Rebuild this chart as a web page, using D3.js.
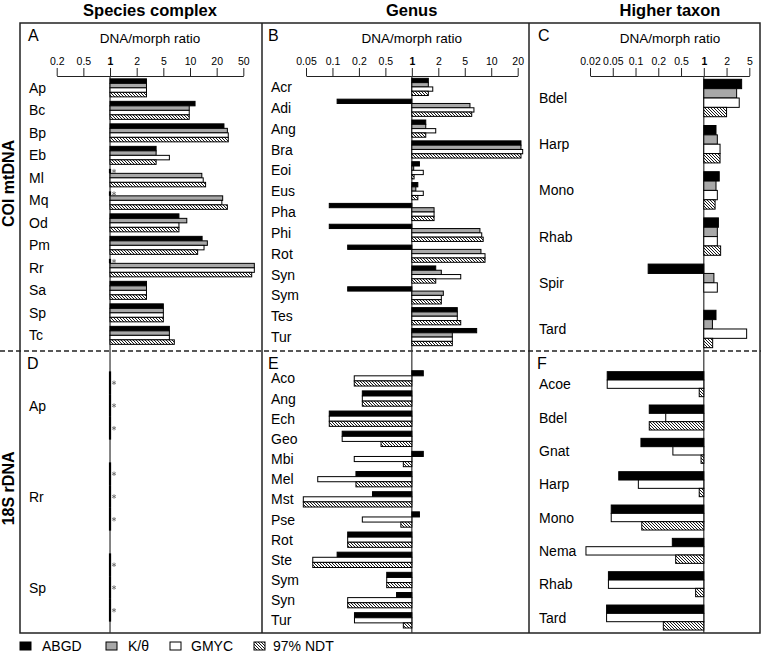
<!DOCTYPE html>
<html><head><meta charset="utf-8">
<script src="https://cdn.jsdelivr.net/npm/d3@7"></script>
<style>body{margin:0;background:#fff}svg{display:block;font-family:"Liberation Sans",Arial,sans-serif}</style>
</head><body><svg id="c" width="761" height="653"></svg>
<script>
// ---------- DATA ----------
const seriesNames = ["ABGD", "K/θ", "GMYC", "97% NDT"];
const seriesNames18S = ["ABGD", "GMYC", "97% NDT"];

// A: COI mtDNA, species complex
const catsA = ["Ap","Bc","Bp","Eb","Ml","Mq","Od","Pm","Rr","Sa","Sp","Tc"];
const abgdA = [2.8, 11.4, 25.7, 3.9, null, null, 7.5, 13.7, null, 2.8, 5, 5.85];
const kthA  = [2.8, 9.8, 28.9, 3.9, 13.6, 24.6, 9.2, 15.7, 73, 2.8, 5, 5.85];
const gmycA = [2.8, 9.8, 29.8, 5.85, 14.1, 23.9, 7.5, 14.4, 73, 2.8, 5, 5.85];
const ndtA  = [2.8, 9.8, 29.8, 3.9, 15.0, 28.9, 7.5, 12.2, 66.7, 2.8, 5, 6.65];

// B: COI mtDNA, genus
const catsB = ["Acr","Adi","Ang","Bra","Eoi","Eus","Pha","Phi","Rot","Syn","Sym","Tes","Tur"];
const abgdB = [1.54, 0.113, 1.44, 21.8, 1.22, 1.17, 0.092, 0.092, 0.149, 1.87, 0.149, 3.86, 6.83];
const kthB  = [1.54, 5.73, 1.44, 21.8, 1.05, 1.11, 1.79, 7.44, 7.64, 2.22, 2.38, 3.86, 3.25];
const gmycB = [1.73, 6.36, 1.87, 22.8, 1.35, 1.35, 1.79, 7.8, 8.5, 4.35, 2.22, 3.86, 3.25];
const ndtB  = [1.54, 6.0, 1.44, 21.8, 1.06, 1.17, 1.79, 8.1, 8.5, 1.87, 2.22, 4.35, 3.25];

// C: COI mtDNA, higher taxon
const catsC = ["Bdel","Harp","Mono","Rhab","Spir","Tard"];
const abgdC = [3.67, 1.45, 1.6, 1.56, 0.147, 1.45];
const kthC  = [3.0, 1.51, 1.45, 1.51, 1.36, 1.3];
const gmycC = [3.33, 1.64, 1.51, 1.51, 1.51, 4.49];
const ndtC  = [2.0, 1.64, 1.41, 1.67, 1.0, 1.31];

// D: 18S rDNA, species complex (all ratios = 1, marked *)
const catsD = ["Ap","Rr","Sp"];
const abgdD = [null, null, null];
const gmycD = [null, null, null];
const ndtD  = [null, null, null];

// E: 18S rDNA, genus
const catsE = ["Aco","Ang","Ech","Geo","Mbi","Mel","Mst","Pse","Rot","Ste","Sym","Syn","Tur"];
const abgdE = [1.35, 0.225, 0.092, 0.129, 1.35, 0.185, 0.32, 1.22, 0.149, 0.113, 0.518, 0.67, 0.178];
const gmycE = [0.177, 0.225, 0.092, 0.129, 0.177, 0.068, 0.0466, 0.225, 0.149, 0.0597, 0.518, 0.149, 0.178];
const ndtE  = [0.177, 0.225, 0.092, 0.43, 0.8, 0.185, 0.0466, 0.75, 0.149, 0.0597, 0.518, 0.149, 0.8];

// F: 18S rDNA, higher taxon
const catsF = ["Acoe","Bdel","Gnat","Harp","Mono","Nema","Rhab","Tard"];
const abgdF = [0.040, 0.152, 0.118, 0.060, 0.047, 0.352, 0.042, 0.039];
const gmycF = [0.040, 0.27, 0.36, 0.109, 0.047, 0.0170, 0.042, 0.039];
const ndtF  = [0.87, 0.152, 0.92, 0.87, 0.121, 0.403, 0.78, 0.245];

// Tick labels
const ticksA = [0.2, 0.5, 1, 2, 5, 10, 20, 50];
const ticksB = [0.05, 0.1, 0.2, 0.5, 1, 2, 5, 10, 20];
const ticksC = [0.02, 0.05, 0.1, 0.2, 0.5, 1, 2, 5];

const columnTitles = ["Species complex", "Genus", "Higher taxon"];
const rowTitles = ["COI mtDNA", "18S rDNA"];
const panelLetters = ["A","B","C","D","E","F"];
const axisTitle = "DNA/morph ratio";

// ---------- STYLE ----------
const fills = {"ABGD":"#000", "K/θ":"#a8a8a8", "GMYC":"#fff", "97% NDT":"url(#hatch)"};
const svg = d3.select("#c");
const defs = svg.append("defs");
const pat = defs.append("pattern").attr("id","hatch").attr("patternUnits","userSpaceOnUse")
  .attr("width",3).attr("height",3);
pat.append("rect").attr("width",3).attr("height",3).attr("fill","#fff");
pat.append("path").attr("d","M-1,-1L4,4M-1,2L1,4M2,-1L4,1").attr("stroke","#000").attr("stroke-width",0.9);

// piecewise-log scales (equal spacing between 1-2-5 ticks)
function mkScale(ticks, x0, step){
  return d3.scaleLog().domain(ticks).range(ticks.map((d,i)=>x0 + i*step));
}
const xA = mkScale(ticksA, 56.7, 26.66);
const xB = mkScale(ticksB, 306, 26.46);
const xC = mkScale(ticksC, 590, 22.76);

const FRAME = {l:20, t:23, r:760, b:633};
const divX = [262, 529];
const dashY = 351;

// headers
const headX = [150, 411.7, 670];
columnTitles.forEach((t,i)=>{
  svg.append("text").attr("x",headX[i]).attr("y",16).attr("text-anchor","middle")
    .attr("font-size",16.5).attr("font-weight","bold").text(t);
});
// row titles
[[183.5,rowTitles[0]],[488.4,rowTitles[1]]].forEach(([cy,t])=>{
  svg.append("text").attr("transform",`translate(13.5,${cy}) rotate(-90)`).attr("text-anchor","middle")
    .attr("font-size",16).attr("font-weight","bold").text(t);
});

// frame
svg.append("rect").attr("x",FRAME.l).attr("y",FRAME.t).attr("width",FRAME.r-FRAME.l).attr("height",FRAME.b-FRAME.t)
  .attr("fill","none").attr("stroke","#222").attr("stroke-width",1.5);
divX.forEach(x=>svg.append("line").attr("x1",x).attr("x2",x).attr("y1",FRAME.t).attr("y2",FRAME.b)
  .attr("stroke","#222").attr("stroke-width",1.5));
svg.append("line").attr("x1",0).attr("x2",761).attr("y1",dashY).attr("y2",dashY)
  .attr("stroke","#222").attr("stroke-width",1.3).attr("stroke-dasharray","5,3");

// axes
function drawAxis(x, ticks, cx){
  const g = svg.append("g").attr("transform","translate(0,76)");
  g.call(d3.axisTop(x).tickValues(ticks).tickFormat(d=>String(d)).tickSize(8).tickSizeOuter(0).tickPadding(3));
  g.select(".domain").attr("stroke","#222");
  g.selectAll(".tick line").attr("stroke","#222");
  g.selectAll(".tick text").attr("font-size",10.5).attr("font-family","Liberation Sans, Arial, sans-serif")
    .attr("fill","#000").attr("font-weight",d=>d===1?"bold":"normal");
  svg.append("text").attr("x",cx).attr("y",43).attr("text-anchor","middle").attr("font-size",13.5).text(axisTitle);
}
drawAxis(xA, ticksA, 150);
drawAxis(xB, ticksB, 411.7);
drawAxis(xC, ticksC, 670);

// zero lines
[[xA,76,633],[xB,76,633],[xC,76,633]].forEach(([x,y1,y2])=>{
  svg.append("line").attr("x1",x(1)).attr("x2",x(1)).attr("y1",y1).attr("y2",y2)
    .attr("stroke","#333").attr("stroke-width",1.2);
});

// panel letters
const letterPos = [[28,41],[268,41],[538,41],[27,369],[268,369],[537,369]];
panelLetters.forEach((l,i)=>svg.append("text").attr("x",letterPos[i][0]).attr("y",letterPos[i][1])
  .attr("font-size",16).text(l));

const star = d3.symbol(d3.symbolAsterisk, 14)();

function drawPanel(x, cats, names, series, yRange, pIn, pOut, labelX){
  const y = d3.scaleBand().domain(cats).range(yRange).paddingInner(pIn).paddingOuter(pOut);
  const ys = d3.scaleBand().domain(names).range([0, y.bandwidth()]);
  const g = svg.append("g");
  cats.forEach((c,i)=>{
    g.append("text").attr("x",labelX).attr("y",y(c)+y.bandwidth()/2).attr("dy","0.36em")
      .attr("font-size",14).text(c);
    names.forEach((n,j)=>{
      const v = series[j][i];
      const yy = y(c) + ys(n), h = ys.bandwidth();
      if (v == null){
        g.append("line").attr("x1",x(1)).attr("x2",x(1)).attr("y1",yy).attr("y2",yy+h)
          .attr("stroke","#000").attr("stroke-width",2.2);
        g.append("path").attr("d",star).attr("transform",`translate(${x(1)+4},${yy+h/2})`)
          .attr("fill","none").attr("stroke","#666").attr("stroke-width",0.8);
      } else {
        const x0 = Math.min(x(v), x(1)), w = Math.abs(x(v)-x(1));
        g.append("rect").attr("x",x0).attr("y",yy).attr("width",w).attr("height",h)
          .attr("fill",fills[n]).attr("stroke","#000").attr("stroke-width",1);
      }
    });
  });
}
drawPanel(xA, catsA, seriesNames, [abgdA,kthA,gmycA,ndtA], [76.6,346.6], 0.2, 0.1, 29);
drawPanel(xB, catsB, seriesNames, [abgdB,kthB,gmycB,ndtB], [76.5,347.5], 0.175, 0.0875, 271);
drawPanel(xC, catsC, seriesNames, [abgdC,kthC,gmycC,ndtC], [77,350], 0.19, 0.05, 539);
drawPanel(xA, catsD, seriesNames18S, [abgdD,gmycD,ndtD], [360,633], 0.25, 0.125, 29);
drawPanel(xB, catsE, seriesNames18S, [abgdE,gmycE,ndtE], [368.3,630.4], 0.24, 0.12, 271);
drawPanel(xC, catsF, seriesNames18S, [abgdF,gmycF,ndtF], [367.5,634.2], 0.25, 0.125, 539);

// legend
const legSq = [20, 106, 170, 254];
const legTx = [42, 128, 191, 273];
seriesNames.forEach((n,i)=>{
  svg.append("rect").attr("x",legSq[i]).attr("y",642).attr("width",11).attr("height",8)
    .attr("fill",fills[n]).attr("stroke","#000").attr("stroke-width",1);
  svg.append("text").attr("x",legTx[i]).attr("y",651).attr("font-size",14).text(n);
});
</script></body></html>
